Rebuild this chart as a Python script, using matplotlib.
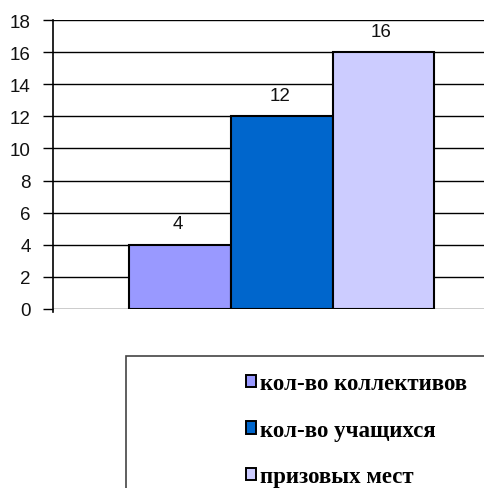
import matplotlib
matplotlib.use('Agg')
import matplotlib.pyplot as plt
from matplotlib.patches import Rectangle, Patch

labels = ['кол-во коллективов', 'кол-во учащихся', 'призовых мест']
values = [4, 12, 16]
colors = ['#9999FF', '#0066CC', '#CCCCFF']
yticks = [0, 2, 4, 6, 8, 10, 12, 14, 16, 18]

W, H = 484, 489
fig = plt.figure(figsize=(W / 100, H / 100), dpi=100, facecolor='white')

# axes spans past the right edge like the clipped original
left, top, bottom, right = 53, 21, 310, 545
ax = fig.add_axes([left / W, (H - bottom) / H, (right - left) / W, (bottom - top) / H])
ax.set_facecolor('white')

x = list(range(len(values)))
ax.bar(x, values, width=1.0, color=colors, edgecolor='black', linewidth=1.5, zorder=3)
for xi, v in zip(x, values):
    ax.text(xi - 0.02, v + 1.3, str(v), ha='center', va='center', fontsize=13.5,
            family='Liberation Sans', color='#111111', zorder=4)

bar_px = 101.7
ax.set_xlim(-1.25, -1.25 + (right - left) / bar_px)
ax.set_ylim(0, 18)
ax.set_yticks(yticks)
ax.set_xticks([])
ax.tick_params(axis='y', length=7, width=1, labelsize=13.5, pad=9, direction='out')
for lab in ax.get_yticklabels():
    lab.set_family('Liberation Sans')
    lab.set_color('#111111')
ax.yaxis.grid(True, color='black', linewidth=1, zorder=0)
ax.set_axisbelow(True)
for s in ['top', 'right', 'bottom']:
    ax.spines[s].set_visible(False)
ax.spines['left'].set_linewidth(1.2)
ax.spines['left'].set_bounds(-0.2, 18)

# legend frame running off the figure
fig.patches.append(Rectangle((126 / W, -0.05), 1.0, (H - 357) / H + 0.05,
                             transform=fig.transFigure, facecolor='white',
                             edgecolor='#444444', linewidth=1.2))
handles = [Patch(facecolor=c, edgecolor='black', linewidth=1.4) for c in colors]
fig.legend(handles, labels, loc='upper left',
           bbox_to_anchor=(246 / W, (H - 374) / H), frameon=False,
           prop={'family': 'Liberation Serif', 'weight': 'bold', 'size': 16.5},
           handlelength=0.45, handleheight=0.45, handletextpad=0.15,
           labelspacing=1.12, borderaxespad=0, borderpad=0)

plt.savefig('out.png', dpi=100, facecolor='white')
